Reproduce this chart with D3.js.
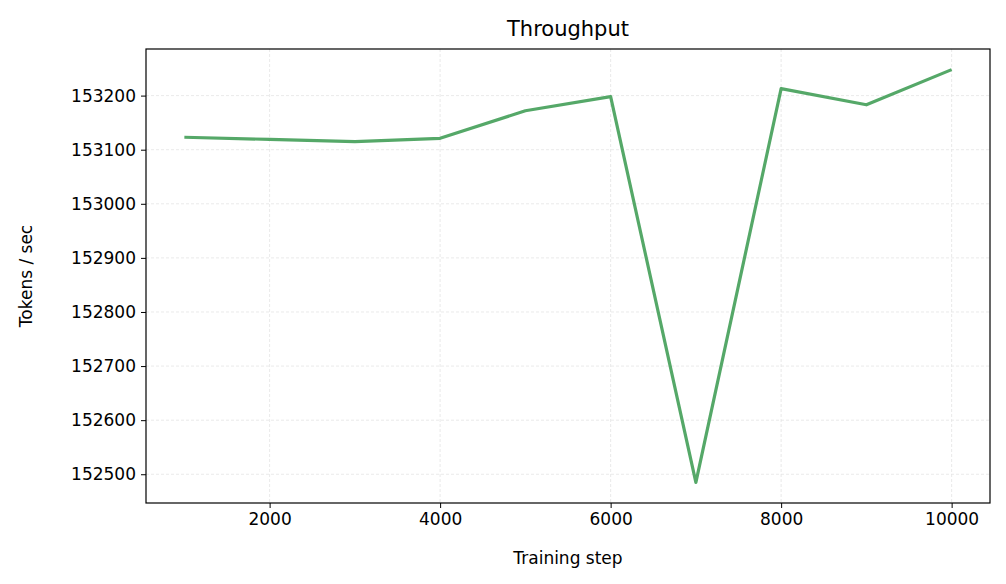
<!DOCTYPE html>
<html>
<head>
<meta charset="utf-8">
<script src="https://cdn.jsdelivr.net/npm/d3@7"></script>
<style>
  body { margin: 0; background: #fff; }
  svg text { font-family: "DejaVu Sans", sans-serif; }
</style>
</head>
<body>
<div class="chart"></div>
<script>
const steps = [1000, 2000, 3000, 4000, 5000, 6000, 7000, 8000, 9000, 10000];
const tokensPerSec = [153123, 153119, 153115, 153121, 153172, 153198, 152485, 153213, 153183, 153248];
const xTicks = [2000, 4000, 6000, 8000, 10000];
const yTicks = [152500, 152600, 152700, 152800, 152900, 153000, 153100, 153200];

const margin = { top: 49, right: 16, bottom: 81, left: 146 },
  width = 1006 - margin.left - margin.right,
  height = 584 - margin.top - margin.bottom;

const svg = d3.select(".chart").append("svg")
  .attr("width", 1006).attr("height", 584);
const g = svg.append("g").attr("transform", "translate(" + margin.left + "," + margin.top + ")");

// matplotlib-style 5% margins
const xPad = (d3.max(steps) - d3.min(steps)) * 0.05;
const yPad = (d3.max(tokensPerSec) - d3.min(tokensPerSec)) * 0.05;
const x = d3.scaleLinear().domain([d3.min(steps) - xPad, d3.max(steps) + xPad]).range([0, width]);
const y = d3.scaleLinear().domain([d3.min(tokensPerSec) - yPad, d3.max(tokensPerSec) + yPad]).range([height, 0]);

// grid
g.selectAll(".gx").data(xTicks).enter().append("line")
  .attr("x1", d => x(d)).attr("x2", d => x(d)).attr("y1", 0).attr("y2", height)
  .attr("stroke", "#e3e3e3").attr("stroke-width", 0.8).attr("stroke-dasharray", "3,2");
g.selectAll(".gy").data(yTicks).enter().append("line")
  .attr("y1", d => y(d)).attr("y2", d => y(d)).attr("x1", 0).attr("x2", width)
  .attr("stroke", "#e3e3e3").attr("stroke-width", 0.8).attr("stroke-dasharray", "3,2");

// axes
const xAxis = g.append("g").attr("transform", "translate(0," + height + ")")
  .call(d3.axisBottom(x).tickValues(xTicks).tickSize(5).tickPadding(5).tickFormat(d3.format("d")));
const yAxis = g.append("g")
  .call(d3.axisLeft(y).tickValues(yTicks).tickSize(5).tickPadding(5).tickFormat(d3.format("d")));
[xAxis, yAxis].forEach(a => {
  a.select(".domain").remove();
  a.selectAll("text").attr("font-size", 17).attr("fill", "#000");
  a.selectAll("line").attr("stroke", "#000");
});

// line
g.append("path")
  .datum(steps.map((s, i) => [s, tokensPerSec[i]]))
  .attr("fill", "none").attr("stroke", "#55a868").attr("stroke-width", 3.2)
  .attr("stroke-linejoin", "round")
  .attr("d", d3.line().x(d => x(d[0])).y(d => y(d[1])));

// frame
g.append("rect").attr("width", width).attr("height", height)
  .attr("fill", "none").attr("stroke", "#000").attr("stroke-width", 1.2);

// labels
svg.append("text").attr("x", margin.left + width / 2).attr("y", 36)
  .attr("text-anchor", "middle").attr("font-size", 21).text("Throughput");
svg.append("text").attr("x", margin.left + width / 2).attr("y", 564)
  .attr("text-anchor", "middle").attr("font-size", 17).text("Training step");
svg.append("text").attr("transform", "translate(32," + (margin.top + height / 2) + ") rotate(-90)")
  .attr("text-anchor", "middle").attr("font-size", 17).text("Tokens / sec");
</script>
</body>
</html>
